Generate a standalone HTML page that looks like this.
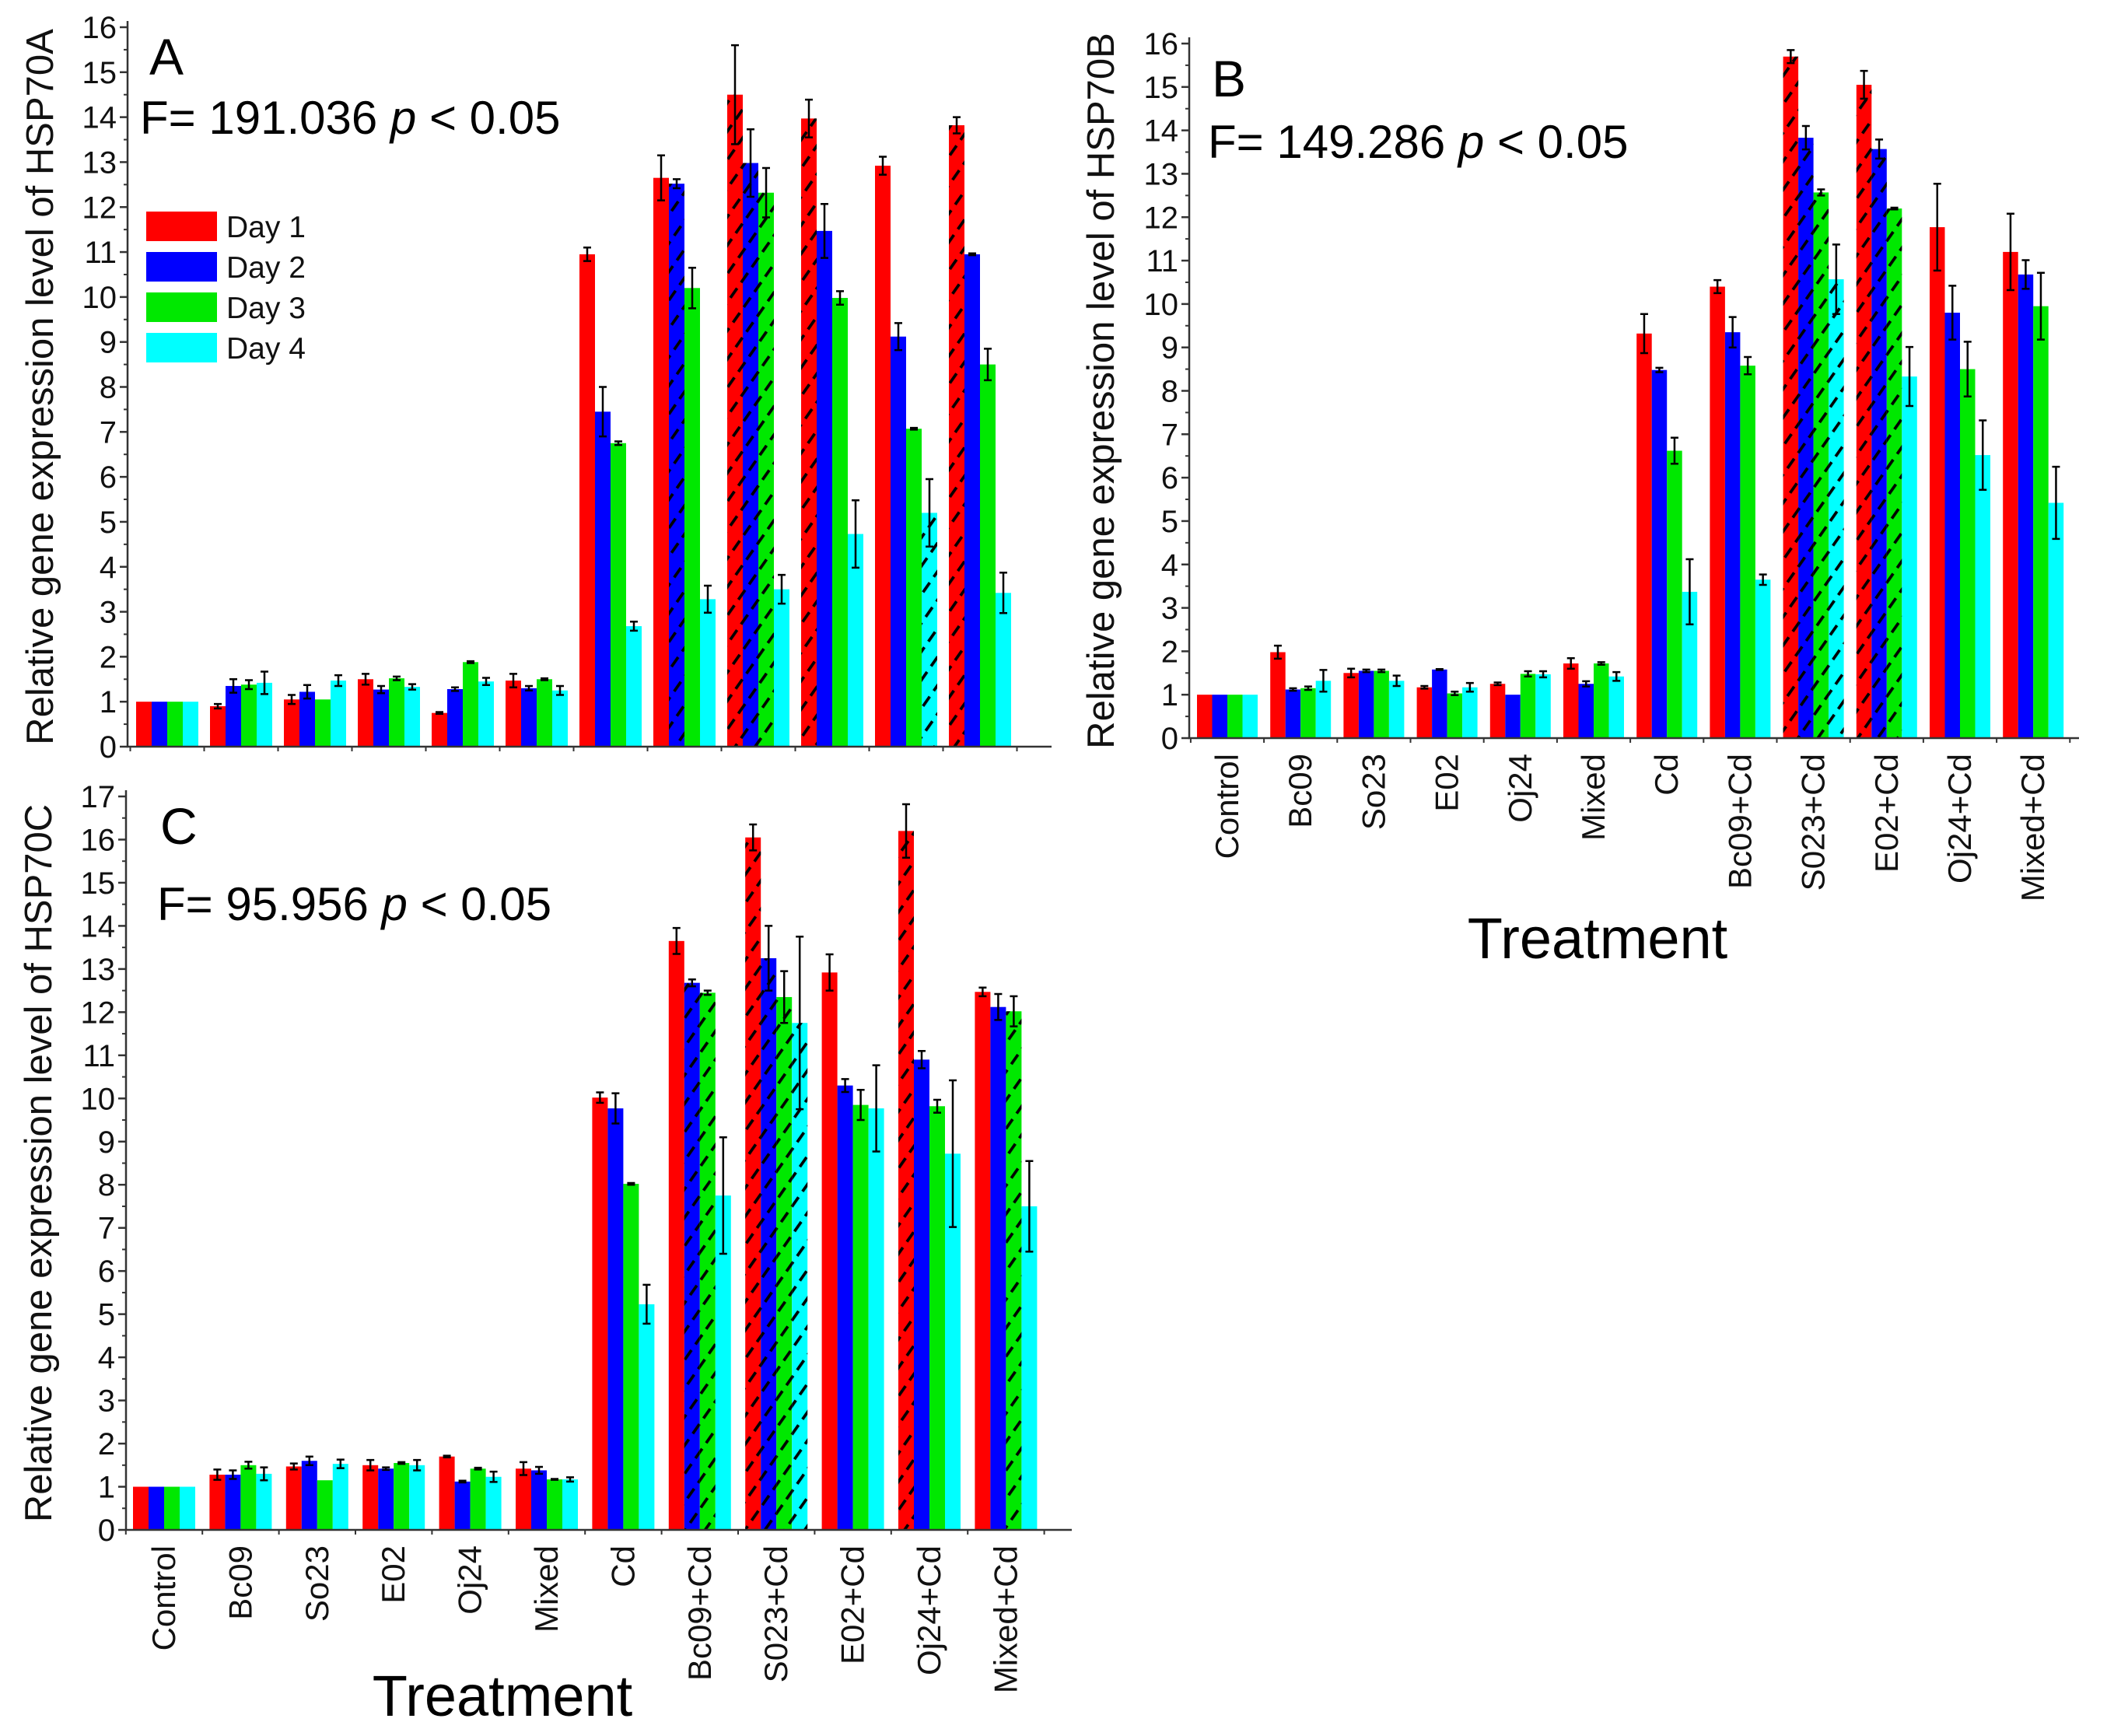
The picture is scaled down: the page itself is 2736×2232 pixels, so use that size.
<!DOCTYPE html>
<html><head><meta charset="utf-8">
<style>
html,body{margin:0;padding:0;background:#fff;}
svg{display:block;font-family:"Liberation Sans",Arial,sans-serif;}
</style></head>
<body>
<svg id="fig" width="2736" height="2232" viewBox="0 0 2736 2232" xmlns="http://www.w3.org/2000/svg">
<defs>
<pattern id="hatch" patternUnits="userSpaceOnUse" width="21" height="24" patternTransform="rotate(35)">
<line x1="0" y1="0" x2="0" y2="24" stroke="#000" stroke-width="7.5" stroke-dasharray="15 9"/>
</pattern>
</defs>
</svg>
<script>
const categories=["Control","Bc09","So23","E02","Oj24","Mixed","Cd","Bc09+Cd","S023+Cd","E02+Cd","Oj24+Cd","Mixed+Cd"];
const seriesNames=["Day 1","Day 2","Day 3","Day 4"];
const colors=["#ff0000","#0000ff","#00e800","#00ffff"];
// Panel A
const A_d1=[1,0.9,1.05,1.5,0.75,1.47,10.95,12.65,14.5,13.97,12.92,13.82];
const A_d2=[1,1.35,1.22,1.27,1.28,1.3,7.45,12.52,12.98,11.47,9.12,10.95];
const A_d3=[1,1.38,1.05,1.52,1.88,1.5,6.75,10.2,12.32,9.98,7.07,8.5];
const A_d4=[1,1.42,1.47,1.33,1.45,1.25,2.68,3.28,3.5,4.73,5.2,3.42];
const A_e1=[0,0.05,0.1,0.12,0.02,0.15,0.15,0.5,1.1,0.42,0.2,0.18];
const A_e2=[0,0.15,0.15,0.08,0.04,0.05,0.55,0.1,0.75,0.6,0.3,0.02];
const A_e3=[0,0.1,0,0.04,0.02,0.02,0.04,0.45,0.55,0.15,0.02,0.35];
const A_e4=[0,0.25,0.12,0.06,0.08,0.1,0.1,0.3,0.32,0.75,0.75,0.45];
// Panel B
const B_d1=[1,1.98,1.5,1.17,1.25,1.72,9.32,10.4,15.7,15.05,11.77,11.2];
const B_d2=[1,1.12,1.55,1.58,1.0,1.25,8.48,9.35,13.83,13.57,9.8,10.68];
const B_d3=[1,1.15,1.55,1.03,1.48,1.72,6.62,8.58,12.57,12.2,8.5,9.95];
const B_d4=[1,1.32,1.32,1.17,1.47,1.42,3.37,3.65,10.57,8.33,6.52,5.42];
const B_e1=[0,0.15,0.1,0.03,0.03,0.12,0.45,0.15,0.15,0.32,1.0,0.88];
const B_e2=[0,0.03,0.03,0.01,0,0.06,0.05,0.35,0.27,0.22,0.62,0.33];
const B_e3=[0,0.04,0.03,0.04,0.06,0.03,0.3,0.2,0.07,0.02,0.63,0.77];
const B_e4=[0,0.25,0.12,0.1,0.07,0.1,0.75,0.12,0.8,0.68,0.8,0.83];
// Panel C
const C_d1=[1,1.28,1.47,1.5,1.7,1.42,10.02,13.65,16.05,12.92,16.2,12.47];
const C_d2=[1,1.28,1.6,1.42,1.12,1.38,9.77,12.68,13.25,10.3,10.9,12.12];
const C_d3=[1,1.5,1.15,1.55,1.42,1.17,8.02,12.45,12.35,9.85,9.82,12.02];
const C_d4=[1,1.3,1.53,1.5,1.23,1.17,5.23,7.75,11.75,9.77,8.72,7.5];
const C_e1=[0,0.12,0.07,0.12,0.02,0.15,0.12,0.3,0.3,0.42,0.62,0.1];
const C_e2=[0,0.1,0.1,0.03,0.02,0.08,0.35,0.08,0.75,0.15,0.2,0.3];
const C_e3=[0,0.08,0,0.02,0.02,0.01,0.02,0.05,0.6,0.35,0.15,0.35];
const C_e4=[0,0.15,0.1,0.12,0.12,0.05,0.45,1.35,2.0,1.0,1.7,1.05];
// hatched bars [category index, series index]
const A_hatch=[[7,1],[8,0],[8,1],[8,2],[9,0],[10,3],[11,0]];
const B_hatch=[[8,0],[8,1],[8,2],[8,3],[9,0],[9,1],[9,2]];
const C_hatch=[[7,1],[7,2],[8,0],[8,1],[8,2],[8,3],[10,0],[11,2]];

const svg=document.getElementById('fig');
const NS="http://www.w3.org/2000/svg";
function mk(tag,attrs,parent){const e=document.createElementNS(NS,tag);for(const k in attrs)e.setAttribute(k,attrs[k]);(parent||svg).appendChild(e);return e;}

function panel(cfg){
  const g=mk('g',{});
  
  
  const y=v=>cfg.y0-(v/cfg.ymax)*(cfg.y0-cfg.yTop);
  const gx=i=>cfg.gx0+i*cfg.pitch;
  const bw=cfg.bw;
  const data=[cfg.d1,cfg.d2,cfg.d3,cfg.d4], errs=[cfg.e1,cfg.e2,cfg.e3,cfg.e4];
  for(let i=0;i<categories.length;i++){
    for(let s=0;s<4;s++){
      const v=data[s][i];
      const x=gx(i)+s*bw;
      const r=mk('rect',{x:x,y:y(v),width:bw,height:cfg.y0-y(v),fill:colors[s]},g);
      
      
      if(cfg.hatch.some(h=>h[0]===i&&h[1]===s)){
        const h=mk('rect',{x:x,y:y(v),width:bw,height:cfg.y0-y(v),fill:'url(#hatch)'},g);
        
        
      }
      const e=errs[s][i];
      if(e>0){
        const cx=x+bw/2;
        const eb=mk('path',{d:`M${cx},${y(v+e)}V${y(v-e)}M${cx-5},${y(v+e)}H${cx+5}M${cx-5},${y(v-e)}H${cx+5}`,stroke:'#000','stroke-width':2.5,fill:'none'},g);
        
        
      }
    }
  }
  const ax=mk('path',{d:`M${cfg.ax},${cfg.yTop-8}V${cfg.y0}H${cfg.axEnd}`,stroke:'#333','stroke-width':2.5,fill:'none'},g);
  
  
  for(let t=0;t<=cfg.ymax;t++){
    mk('line',{x1:cfg.ax-10,x2:cfg.ax,y1:y(t),y2:y(t),stroke:'#333','stroke-width':2.5},g);
    if(t<cfg.ymax) mk('line',{x1:cfg.ax-5,x2:cfg.ax,y1:y(t+0.5),y2:y(t+0.5),stroke:'#333','stroke-width':2},g);
    const tl=mk('text',{x:cfg.ax-14,y:y(t)+14,'text-anchor':'end','font-size':40,fill:'#111'},g);
    tl.textContent=t;
    
    
  }
  for(let i=0;i<=categories.length;i++){
    const tx=gx(i)-(cfg.pitch-4*bw)/2;
    mk('line',{x1:tx,x2:tx,y1:cfg.y0,y2:cfg.y0+6,stroke:'#333','stroke-width':2},g);
  }
  const yt=mk('text',{x:0,y:0,'text-anchor':'middle','font-size':49,fill:'#111',transform:`translate(${cfg.ytx},${(cfg.y0+cfg.yTop)/2}) rotate(-90)`},g);
  yt.textContent='Relative gene expression level of '+cfg.gene;
  
  
  const lt=mk('text',{x:cfg.lx,y:cfg.ly,'font-size':66,fill:'#000'},g);
  lt.textContent=cfg.letter;
  
  
  const ft=mk('text',{x:cfg.fx,y:cfg.fy,'font-size':60,fill:'#000'},g);
  ft.innerHTML=cfg.ftext+' <tspan font-style="italic">p</tspan> &lt; 0.05';
  
  
  if(cfg.xlabels){
    for(let i=0;i<categories.length;i++){
      const cx=gx(i)+2*bw+14;
      const cl=mk('text',{x:0,y:0,'text-anchor':'end','font-size':42,fill:'#111',transform:`translate(${cx},${cfg.y0+20}) rotate(-90)`},g);
      cl.textContent=categories[i];
      
      
    }
    const xt=mk('text',{x:cfg.xtx,y:cfg.xty,'text-anchor':'middle','font-size':74,fill:'#000'},g);
    xt.textContent='Treatment';
    
    
  }
  return g;
}

panel({name:'panel-a',key:'a',gene:'HSP70A',letter:'A',ftext:'F= 191.036',d1:A_d1,d2:A_d2,d3:A_d3,d4:A_d4,e1:A_e1,e2:A_e2,e3:A_e3,e4:A_e4,hatch:A_hatch,
  ax:164,axEnd:1352,y0:960,yTop:35,ymax:16,gx0:175,pitch:95,bw:20,ytx:68,lx:192,ly:96,fx:180,fy:172,xlabels:false});
panel({name:'panel-b',key:'b',gene:'HSP70B',letter:'B',ftext:'F= 149.286',d1:B_d1,d2:B_d2,d3:B_d3,d4:B_d4,e1:B_e1,e2:B_e2,e3:B_e3,e4:B_e4,hatch:B_hatch,
  ax:1529,axEnd:2673,y0:949,yTop:56,ymax:16,gx0:1539,pitch:94.2,bw:19.5,ytx:1432,lx:1558,ly:124,fx:1553,fy:203,xlabels:true,xtx:2054,xty:1232});
panel({name:'panel-c',key:'c',gene:'HSP70C',letter:'C',ftext:'F= 95.956',d1:C_d1,d2:C_d2,d3:C_d3,d4:C_d4,e1:C_e1,e2:C_e2,e3:C_e3,e4:C_e4,hatch:C_hatch,
  ax:162,axEnd:1378,y0:1967,yTop:1024,ymax:17,gx0:171,pitch:98.4,bw:20,ytx:66,lx:206,ly:1085,fx:202,fy:1183,xlabels:true,xtx:646,xty:2206});

const lg=mk('g',{});


for(let s=0;s<4;s++){
  const ly=272+s*52;
  const r=mk('rect',{x:188,y:ly,width:91,height:38,fill:colors[s]},lg);
  
  
  const t=mk('text',{x:291,y:ly+33,'font-size':39,fill:'#111'},lg);
  t.textContent=seriesNames[s];
  
  
}
</script>
</body></html>
